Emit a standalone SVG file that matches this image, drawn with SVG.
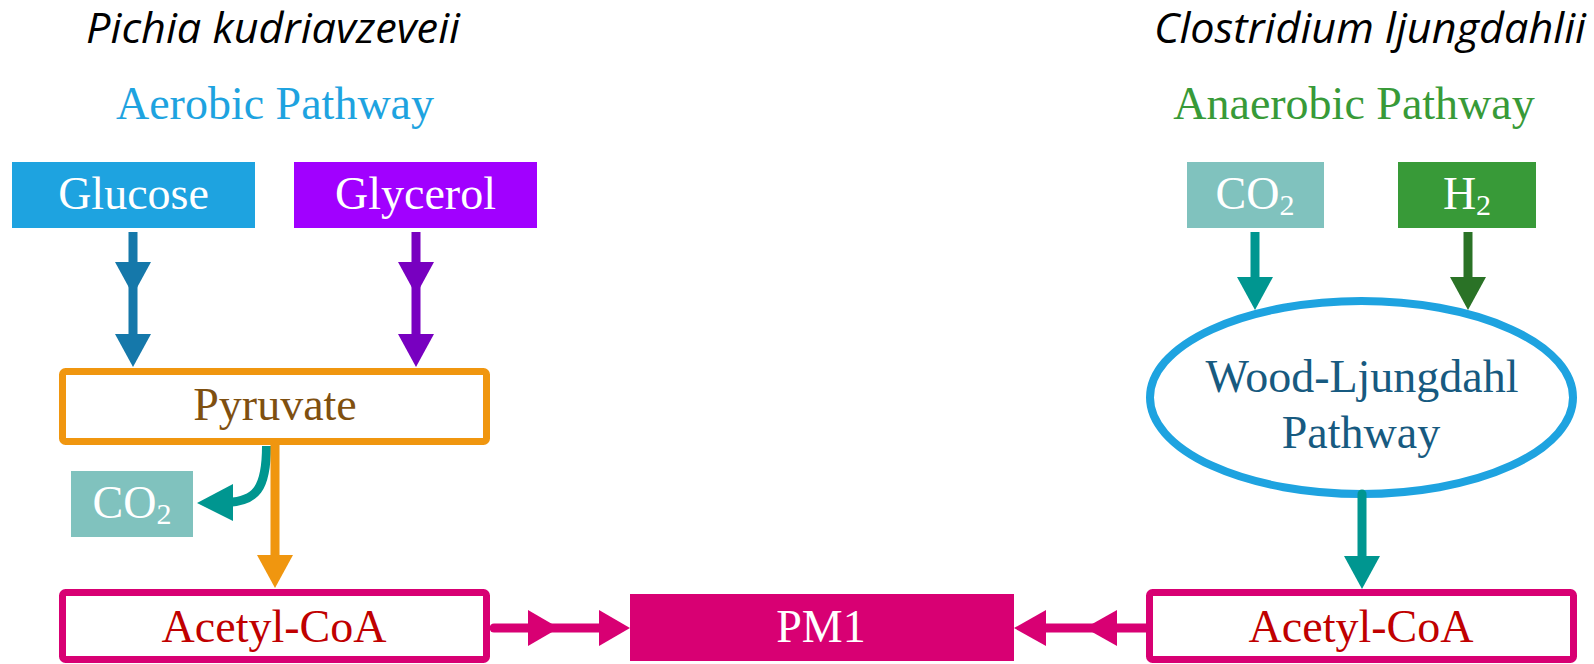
<svg xmlns="http://www.w3.org/2000/svg" xmlns:xlink="http://www.w3.org/1999/xlink" width="1594" height="664" viewBox="0 0 1594 664">
<style>
.lbl{font-family:"Liberation Serif","Times New Roman",serif;font-size:46px;text-anchor:middle}
.sub{font-size:30px}
.title{font-family:"Open Sans","Liberation Sans",sans-serif;font-style:italic;font-size:42px;fill:#000}
.w{fill:#fff}
.box{stroke-width:7;fill:#fff}
.ln{fill:none;stroke-width:9}
</style>
<defs>
<path id="hd" d="M-18,0 L18,0 L0,33 Z"/>
<path id="hr" d="M0,-18 L0,18 L31,0 Z"/>
<path id="hl" d="M0,-18 L0,18 L-32,0 Z"/>
</defs>
<rect width="1594" height="664" fill="#fff"/>

<g id="title-left"><text class="title" x="86" y="43" textLength="374" lengthAdjust="spacingAndGlyphs">Pichia kudriavzeveii</text></g>
<g id="title-right"><text class="title" x="1154" y="43" textLength="432" lengthAdjust="spacingAndGlyphs">Clostridium ljungdahlii</text></g>
<g id="aerobic"><text class="lbl" x="275" y="119" fill="#1EA3E0">Aerobic Pathway</text></g>
<g id="anaerobic"><text class="lbl" x="1354" y="119" fill="#389A38">Anaerobic Pathway</text></g>

<g id="glucose"><rect x="12" y="162" width="243" height="66" fill="#1EA3E0"/><text class="lbl w" x="133.5" y="209">Glucose</text></g>
<g id="glycerol"><rect x="294" y="162" width="243" height="66" fill="#A100FF"/><text class="lbl w" x="415.5" y="209">Glycerol</text></g>
<g id="pyruvate"><rect class="box" x="62.5" y="371.5" width="424" height="70" rx="3" stroke="#F0960F"/><text class="lbl" x="275" y="420" fill="#7F5010">Pyruvate</text></g>
<g id="co2-left"><rect x="71" y="471" width="122" height="66" fill="#80C2BE"/><text class="lbl w" x="132" y="518">CO<tspan class="sub" dy="6">2</tspan></text></g>
<g id="acetyl-left"><rect class="box" x="62.5" y="592.5" width="424" height="67" rx="3" stroke="#D80073"/><text class="lbl" x="274" y="642" fill="#C00000">Acetyl-CoA</text></g>
<g id="pm1"><rect x="630" y="594" width="384" height="67" fill="#D80073"/><text class="lbl w" x="821" y="642">PM1</text></g>
<g id="co2-right"><rect x="1187" y="162" width="137" height="66" fill="#80C2BE"/><text class="lbl w" x="1255" y="209">CO<tspan class="sub" dy="6">2</tspan></text></g>
<g id="h2"><rect x="1398" y="162" width="138" height="66" fill="#389A38"/><text class="lbl w" x="1467" y="209">H<tspan class="sub" dy="6">2</tspan></text></g>
<g id="wood-ljungdahl"><ellipse cx="1361.5" cy="397.5" rx="211.5" ry="96.5" fill="#fff" stroke="#1EA3E0" stroke-width="8"/><text class="lbl" x="1362" y="392" fill="#175A80">Wood-Ljungdahl</text><text class="lbl" x="1361" y="448" fill="#175A80">Pathway</text></g>
<g id="acetyl-right"><rect class="box" x="1149.5" y="592.5" width="424" height="67" rx="3" stroke="#D80073"/><text class="lbl" x="1361" y="642" fill="#C00000">Acetyl-CoA</text></g>

<g id="connectors">
<line class="ln" x1="133" y1="232" x2="133" y2="340" stroke="#1578AA"/>
<use xlink:href="#hd" x="133" y="262" fill="#1578AA"/>
<use xlink:href="#hd" x="133" y="334" fill="#1578AA"/>
<line class="ln" x1="416" y1="232" x2="416" y2="340" stroke="#7800C0"/>
<use xlink:href="#hd" x="416" y="262" fill="#7800C0"/>
<use xlink:href="#hd" x="416" y="334" fill="#7800C0"/>
<path class="ln" d="M266.5,446 C266.5,490 255,501 228,502.5" stroke="#009690"/>
<path d="M233,484 L233,521 L197,503 Z" fill="#009690"/>
<line class="ln" x1="275" y1="444" x2="275" y2="560" stroke="#F0960F"/>
<use xlink:href="#hd" x="275" y="555" fill="#F0960F"/>
<line class="ln" x1="494" y1="628" x2="605" y2="628" stroke="#D80073" stroke-linecap="round"/>
<use xlink:href="#hr" x="528" y="628" fill="#D80073"/>
<use xlink:href="#hr" x="599" y="628" fill="#D80073"/>
<line class="ln" x1="1040" y1="628" x2="1146" y2="628" stroke="#D80073"/>
<use xlink:href="#hl" x="1046" y="628" fill="#D80073"/>
<use xlink:href="#hl" x="1117" y="628" fill="#D80073"/>
<line class="ln" x1="1255" y1="232" x2="1255" y2="280" stroke="#009690"/>
<use xlink:href="#hd" x="1255" y="277" fill="#009690"/>
<line class="ln" x1="1468" y1="232" x2="1468" y2="280" stroke="#2A7226"/>
<use xlink:href="#hd" x="1468" y="277" fill="#2A7226"/>
<line class="ln" x1="1362" y1="494" x2="1362" y2="560" stroke="#009690" stroke-linecap="round"/>
<use xlink:href="#hd" x="1362" y="556" fill="#009690"/>
</g>
</svg>
